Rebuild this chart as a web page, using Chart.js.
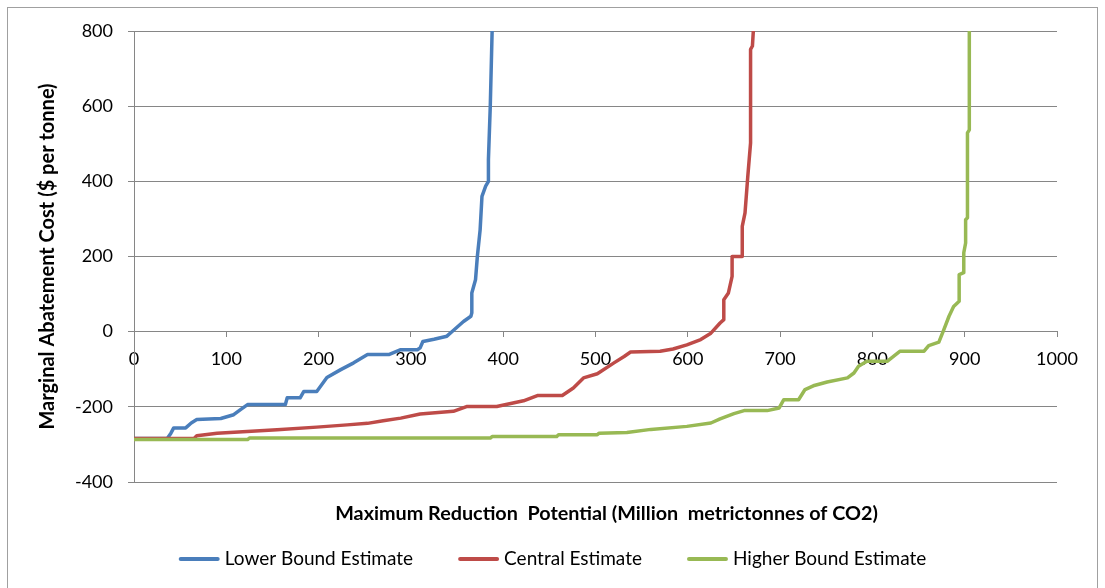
<!DOCTYPE html>
<html>
<head>
<meta charset="utf-8">
<title>Marginal Abatement Cost Curves</title>
<script src="https://cdn.jsdelivr.net/npm/chart.js@4/dist/chart.umd.min.js"></script>
<style>
  html, body { margin: 0; padding: 0; background: #fff; overflow: hidden; }
  #wrap { position: relative; width: 1105px; height: 588px; }
  #frame { position: absolute; left: 7px; top: 7px; width: 1091px; height: 620px;
           border: 1px solid #a0a0a0; box-sizing: border-box; }
  #c { position: absolute; left: 0; top: 0; }
</style>
</head>
<body>
<div id="wrap">
  <div id="frame"></div>
  <canvas id="c" width="1105" height="588"></canvas>
</div>
<script>
// Cumulative reduction potential (Mt CO2) and marginal cost ($/t) for each estimate
const lowerX = [0, 36, 40, 43, 56, 62, 68, 94, 108, 115, 123, 164, 166, 180, 184, 198, 209, 224, 238, 253, 276, 289, 307, 310, 313, 325, 339, 345, 357, 365, 366, 366, 370, 372, 375, 377, 381, 384, 384, 386, 388, 388];
const lowerY = [-284, -284, -270, -256, -256, -243, -234, -231, -221, -208, -194, -194, -176, -176, -159, -159, -122, -101, -83, -61, -61, -48, -48, -43, -26, -20, -12, 1, 27, 41, 50, 103, 138, 200, 271, 360, 387, 400, 458, 600, 800, 850];

const centralX = [0, 65, 68, 90, 155, 198, 231, 253, 270, 289, 310, 346, 361, 393, 422, 437, 464, 476, 487, 502, 520, 531, 538, 570, 584, 599, 614, 625, 635, 639, 639, 644, 648, 648, 659, 659, 662, 665, 668, 668, 670, 671, 671];
const centralY = [-284, -284, -277, -270, -261, -254, -248, -244, -237, -230, -219, -212, -199, -199, -184, -170, -170, -150, -123, -112, -83, -66, -54, -52, -46, -35, -21, -4, 23, 32, 85, 103, 147, 200, 200, 280, 316, 413, 502, 751, 760, 800, 850];

const higherX = [0, 123, 125, 386, 388, 458, 460, 502, 504, 534, 560, 599, 625, 635, 650, 661, 686, 699, 704, 720, 727, 736, 751, 773, 780, 785, 794, 816, 830, 856, 861, 872, 877, 883, 888, 894, 894, 899, 899, 901, 901, 903, 903, 905, 905];
const higherY = [-287, -287, -283, -283, -279, -279, -274, -274, -270, -268, -260, -252, -243, -232, -218, -210, -210, -203, -181, -181, -154, -144, -134, -123, -110, -92, -79, -79, -52, -52, -37, -28, 3, 41, 67, 81, 152, 157, 210, 236, 298, 303, 529, 537, 850];

const seriesNames = ['Lower Bound Estimate', 'Central Estimate', 'Higher Bound Estimate'];
const seriesColors = ['#4a7ebb', '#be4b48', '#98b954'];

const xTicks = { min: 0, max: 1000, step: 100 };
const yTicks = { min: -400, max: 800, step: 200 };

const xTitle = 'Maximum Reduction  Potential (Million  metrictonnes of CO2)';
const yTitle = 'Marginal Abatement Cost ($ per tonne)';

const toPoints = (xs, ys) => xs.map((x, i) => ({ x: x, y: ys[i] }));

const FONT = 'Lato, "Open Sans", sans-serif';
const GRID = '#868686';

// Axis title under the plot and the line legend beneath it
const bottomText = {
  id: 'bottomText',
  afterDraw(chart) {
    const ctx = chart.ctx;
    const area = chart.chartArea;
    ctx.save();
    ctx.fillStyle = '#000';
    ctx.textBaseline = 'middle';
    ctx.textAlign = 'center';
    ctx.font = 'bold 19.8px ' + FONT;
    ctx.fillText(xTitle, (area.left + area.right) / 2 + 11, area.bottom + 32);

    ctx.font = '19px ' + FONT;
    ctx.textAlign = 'left';
    const lineLen = 41, textGap = 5, itemGap = 45;
    const widths = seriesNames.map(n => lineLen + textGap + ctx.measureText(n).width);
    const total = widths.reduce((a, b) => a + b, 0) + itemGap * (widths.length - 1);
    let x = chart.width / 2 - total / 2;
    const y = area.bottom + 77;
    seriesNames.forEach((name, i) => {
      ctx.strokeStyle = seriesColors[i];
      ctx.lineWidth = 4;
      ctx.lineCap = 'round';
      ctx.beginPath();
      ctx.moveTo(x + 2, y);
      ctx.lineTo(x + lineLen - 2, y);
      ctx.stroke();
      ctx.fillText(name, x + lineLen + textGap, y);
      x += widths[i] + itemGap;
    });
    ctx.restore();
  }
};

const series = [toPoints(lowerX, lowerY), toPoints(centralX, centralY), toPoints(higherX, higherY)];

new Chart(document.getElementById('c'), {
  type: 'line',
  data: {
    datasets: series.map((pts, i) => ({
      label: seriesNames[i],
      data: pts,
      borderColor: seriesColors[i],
      backgroundColor: seriesColors[i],
      borderWidth: 3.5,
      pointRadius: 0,
      tension: 0,
      fill: false,
      borderJoinStyle: 'round',
      order: 3 - i
    }))
  },
  options: {
    responsive: false,
    animation: false,
    devicePixelRatio: 1,
    layout: { padding: { left: 0, top: 31, right: 48, bottom: 106 } },
    plugins: {
      legend: { display: false },
      tooltip: { enabled: false }
    },
    scales: {
      x: {
        type: 'linear',
        position: { y: 0 },
        min: xTicks.min,
        max: xTicks.max,
        ticks: {
          stepSize: xTicks.step,
          color: '#000',
          font: { family: FONT, size: 18 },
          padding: 12,
          maxRotation: 0,
          callback: v => String(v)
        },
        grid: { drawOnChartArea: false, drawTicks: true, tickLength: 5, color: GRID },
        border: { display: true, color: GRID, width: 1 }
      },
      y: {
        type: 'linear',
        position: 'left',
        min: yTicks.min,
        max: yTicks.max,
        afterFit(scale) { scale.width = 134; },
        ticks: {
          stepSize: yTicks.step,
          color: '#000',
          font: { family: FONT, size: 18 },
          padding: 15,
          callback: v => String(v)
        },
        grid: { color: GRID, tickLength: 6, drawTicks: true },
        border: { display: true, color: GRID, width: 1 },
        title: {
          display: true,
          text: yTitle,
          color: '#000',
          font: { family: FONT, size: 20, weight: 'bold' },
          padding: { top: 36, bottom: 0 }
        }
      }
    }
  },
  plugins: [bottomText]
});
</script>
</body>
</html>
